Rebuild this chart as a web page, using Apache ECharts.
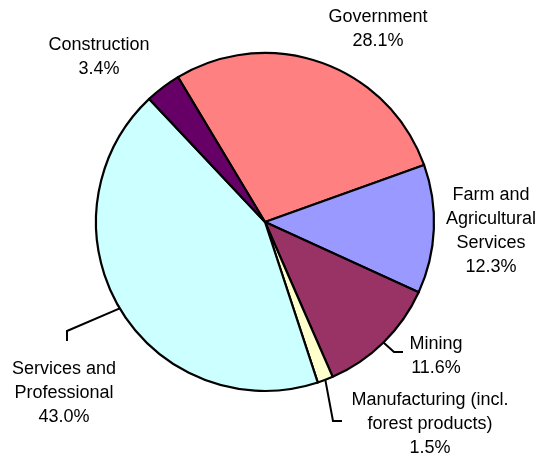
<!DOCTYPE html>
<html><head><meta charset="utf-8">
<script src="https://cdn.jsdelivr.net/npm/echarts@6/dist/echarts.min.js"></script>
<style>html,body{margin:0;padding:0;background:#fff}#c{width:545px;height:462px}</style>
</head><body><div id="c"></div>
<script>
const categories = ['Government', 'Farm and\nAgricultural\nServices', 'Mining', 'Manufacturing (incl.\nforest products)', 'Services and\nProfessional', 'Construction'];
const values = [28.1, 12.3, 11.6, 1.5, 43.0, 3.4];
const colors = ['#FF8080', '#9999FF', '#993366', '#FFFFCC', '#CCFFFF', '#660066'];
// label placement (layout only)
const labelPos = [[378, 29], [491, 231.5], [436, 356.5], [430, 424.5], [64, 393.5], [99, 57]];
const leaderBends = [null, null, [[394, 352], [403, 352]], [[333, 421], [342, 421]], [[67, 331], [67, 341]], null];

const chart = echarts.init(document.getElementById('c'), null, {renderer: 'canvas'});
chart.setOption({
  animation: false,
  backgroundColor: '#ffffff',
  series: [{
    type: 'pie',
    center: [265, 222],
    radius: 169,
    startAngle: 121,
    clockwise: true,
    avoidLabelOverlap: false,
    minShowLabelAngle: 0,
    emphasis: {disabled: true},
    itemStyle: {borderColor: '#000', borderWidth: 2.2},
    label: {
      show: true,
      position: 'outside',
      fontFamily: 'Liberation Sans, Arial, sans-serif',
      fontSize: 18,
      lineHeight: 24,
      color: '#000',
      align: 'center',
      formatter: p => p.name + '\n' + p.value.toFixed(1) + '%'
    },
    labelLine: {show: true, length: 10, length2: 10, lineStyle: {color: '#000', width: 2}},
    labelLayout: function (p) {
      const i = p.dataIndex;
      const o = {x: labelPos[i][0], y: labelPos[i][1], align: 'center', verticalAlign: 'middle'};
      if (leaderBends[i] && p.labelLinePoints) {
        o.labelLinePoints = [p.labelLinePoints[0]].concat(leaderBends[i]);
      }
      return o;
    },
    data: categories.map((c, i) => ({
      name: c,
      value: values[i],
      itemStyle: {color: colors[i]},
      labelLine: {show: !!leaderBends[i]}
    }))
  }]
});
</script></body></html>
